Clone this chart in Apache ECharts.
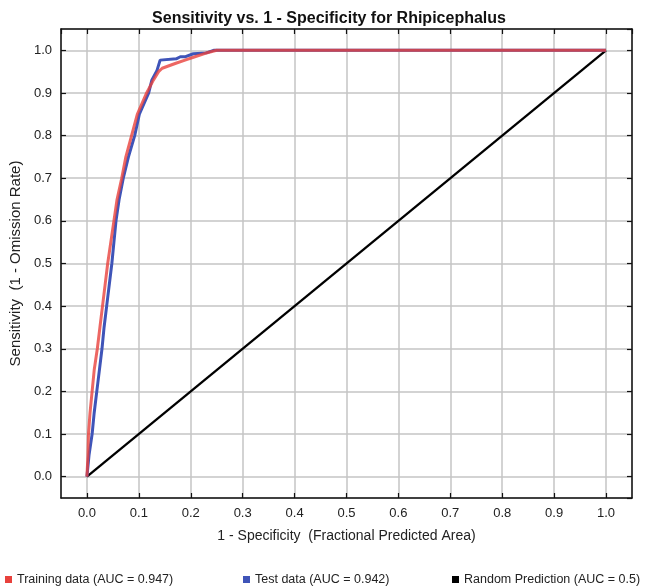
<!DOCTYPE html>
<html>
<head>
<meta charset="utf-8">
<script src="https://cdn.jsdelivr.net/npm/echarts@6/dist/echarts.min.js"></script>
<style>
html,body{margin:0;padding:0;background:#fff;}
#chart{width:648px;height:587px;}
</style>
</head>
<body>
<div id="chart"></div>
<script>
const chartTitle = 'Sensitivity vs. 1 - Specificity for Rhipicephalus';
const xAxisName = '1 - Specificity  (Fractional Predicted Area)';
const yAxisName = 'Sensitivity  (1 - Omission Rate)';
const seriesNames = ['Training data (AUC = 0.947)', 'Test data (AUC = 0.942)', 'Random Prediction (AUC = 0.5)'];

const trainX = [0, 0.002, 0.003, 0.006, 0.010, 0.014, 0.020, 0.025, 0.030, 0.035, 0.040, 0.046, 0.052, 0.058, 0.067, 0.075, 0.086, 0.097, 0.115, 0.128, 0.138, 0.145, 0.170, 0.189, 0.208, 0.228, 0.250, 1.0];
const trainY = [0, 0.05, 0.10, 0.15, 0.20, 0.25, 0.30, 0.35, 0.40, 0.45, 0.50, 0.55, 0.60, 0.65, 0.70, 0.75, 0.80, 0.85, 0.90, 0.93, 0.95, 0.958, 0.969, 0.977, 0.985, 0.993, 1.0, 1.0];

const testX = [0, 0.004, 0.010, 0.014, 0.019, 0.024, 0.029, 0.033, 0.038, 0.043, 0.048, 0.052, 0.056, 0.062, 0.070, 0.080, 0.092, 0.101, 0.119, 0.125, 0.135, 0.141, 0.141, 0.172, 0.180, 0.190, 0.205, 0.230, 0.244, 1.0];
const testY = [0, 0.05, 0.10, 0.15, 0.20, 0.25, 0.30, 0.35, 0.40, 0.45, 0.50, 0.55, 0.60, 0.65, 0.70, 0.75, 0.80, 0.85, 0.90, 0.93, 0.953, 0.977, 0.980, 0.980, 0.985, 0.985, 0.992, 0.994, 1.0, 1.0];

const randX = [0, 1];
const randY = [0, 1];

const axisMin = -0.05, axisMax = 1.05, tickStep = 0.1;

const zip = (a, b) => a.map((v, i) => [v, b[i]]);
const fontFamily = '"Liberation Sans", Arial, sans-serif';
const textColor = '#222';

function fmt(v) {
  const r = Math.round(v * 10) / 10;
  if (Math.abs(r - v) > 1e-6) return '';
  return r.toFixed(1);
}

function makeAxis(kind, pos, showLabel, name) {
  return {
    type: 'value',
    position: pos,
    min: axisMin, max: axisMax,
    minInterval: tickStep, maxInterval: tickStep, splitNumber: 11,
    name: name || '',
    nameLocation: 'middle',
    nameGap: kind === 'x' ? 31 : 33,
    nameTextStyle: {fontFamily, fontSize: kind === 'x' ? 14 : 15, color: textColor},
    axisLine: {show: true, onZero: false, lineStyle: {color: '#111', width: 1.5}},
    axisTick: {show: true, inside: true, length: 5, lineStyle: {color: '#111', width: 1.2}},
    axisLabel: {show: showLabel, formatter: fmt, fontFamily, fontSize: 13, color: textColor, margin: 9, showMinLabel: false, showMaxLabel: false},
    splitLine: {show: showLabel, lineStyle: {color: '#c4c4c4', width: 1.5}}
  };
}

const chart = echarts.init(document.getElementById('chart'), null, {renderer: 'canvas'});
const legendBase = {
  top: 568, icon: 'rect', itemWidth: 7, itemHeight: 7, itemGap: 5,
  textStyle: {fontFamily, fontSize: 12.5, color: textColor, padding: [0, 0, 0, 0]}, selectedMode: false
};
chart.setOption({
  animation: false,
  backgroundColor: '#fff',
  title: {
    text: chartTitle, left: 324, textAlign: 'center', top: 6,
    textStyle: {fontFamily, fontSize: 16, fontWeight: 'bold', color: '#111'}
  },
  grid: {left: 60, right: 16, top: 29, bottom: 89, containLabel: false},
  xAxis: [makeAxis('x', 'bottom', true, xAxisName), makeAxis('x', 'top', false)],
  yAxis: [makeAxis('y', 'left', true, yAxisName), makeAxis('y', 'right', false)],
  legend: [
    Object.assign({}, legendBase, {left: 0, data: [seriesNames[0]]}),
    Object.assign({}, legendBase, {left: 238, data: [seriesNames[1]]}),
    Object.assign({}, legendBase, {left: 447, data: [seriesNames[2]]})
  ],
  series: [
    {name: seriesNames[2], type: 'line', data: zip(randX, randY), symbol: 'none', color: '#000',
     lineStyle: {color: '#000', width: 2.3}, z: 2},
    {name: seriesNames[1], type: 'line', data: zip(testX, testY), symbol: 'none', color: '#3f54b8',
     lineStyle: {color: '#3f54b8', width: 3}, z: 3},
    {name: seriesNames[0], type: 'line', data: zip(trainX, trainY), symbol: 'none', color: '#e8413c',
     lineStyle: {color: '#e8413c', width: 3, opacity: 0.8}, z: 4}
  ]
});
</script>
</body>
</html>
